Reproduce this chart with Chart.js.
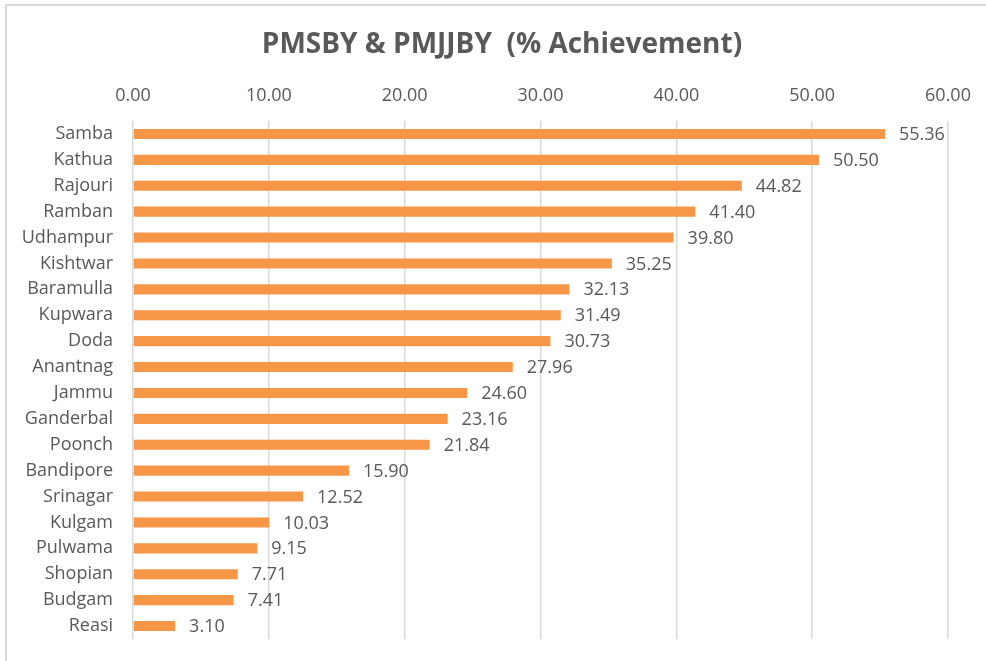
<!DOCTYPE html>
<html>
<head>
<meta charset="utf-8">
<script src="https://cdn.jsdelivr.net/npm/chart.js@4/dist/chart.umd.min.js"></script>
<style>
  html, body { margin: 0; padding: 0; background: #fff; overflow: hidden; }
  #frame { position: absolute; left: 5px; top: 4px; width: 1000px; height: 700px;
           border-left: 2px solid #d9d9d9; border-top: 2px solid #d9d9d9; }
  canvas { position: absolute; left: 0; top: 0; }
</style>
</head>
<body>
<div id="frame"></div>
<canvas id="c" width="986" height="661"></canvas>
<script>
const titleText = 'PMSBY & PMJJBY  (% Achievement)';
const districts = ['Samba','Kathua','Rajouri','Ramban','Udhampur','Kishtwar','Baramulla','Kupwara','Doda','Anantnag','Jammu','Ganderbal','Poonch','Bandipore','Srinagar','Kulgam','Pulwama','Shopian','Budgam','Reasi'];
const achievement = [55.36,50.50,44.82,41.40,39.80,35.25,32.13,31.49,30.73,27.96,24.60,23.16,21.84,15.90,12.52,10.03,9.15,7.71,7.41,3.10];
const axisMin = 0, axisMax = 60, axisStep = 10;

const textColor = '#595959';
const fontFamily = '"Open Sans", sans-serif';

const valueLabels = {
  id: 'valueLabels',
  afterDatasetsDraw(chart) {
    const ctx = chart.ctx;
    const meta = chart.getDatasetMeta(0);
    ctx.save();
    ctx.font = '18px ' + fontFamily;
    ctx.fillStyle = textColor;
    ctx.textAlign = 'left';
    ctx.textBaseline = 'middle';
    meta.data.forEach((bar, i) => {
      const v = chart.data.datasets[0].data[i];
      ctx.fillText(v.toFixed(2), bar.x + 14, bar.y + 1);
    });
    ctx.restore();
  }
};

const chartTitle = {
  id: 'chartTitle',
  afterDraw(chart) {
    const ctx = chart.ctx;
    ctx.save();
    ctx.font = 'bold 28px ' + fontFamily;
    ctx.fillStyle = textColor;
    ctx.textAlign = 'center';
    ctx.textBaseline = 'middle';
    ctx.fillText(titleText, 502, 45);
    ctx.restore();
  }
};

new Chart(document.getElementById('c'), {
  type: 'bar',
  data: {
    labels: districts,
    datasets: [{
      data: achievement,
      backgroundColor: '#F79646',
      borderWidth: 0,
      barPercentage: 0.78,
      categoryPercentage: 0.5
    }]
  },
  options: {
    indexAxis: 'y',
    responsive: false,
    animation: false,
    layout: { padding: { left: 10, right: 38, top: 69, bottom: 22 } },
    plugins: {
      legend: { display: false },
      tooltip: { enabled: false },
      title: { display: false }
    },
    scales: {
      x: {
        position: 'top',
        min: axisMin, max: axisMax,
        ticks: {
          stepSize: axisStep,
          color: textColor,
          font: { family: fontFamily, size: 18 },
          padding: 14,
          callback: v => Number(v).toFixed(2)
        },
        grid: { color: '#d9d9d9', lineWidth: 1.5, drawTicks: false },
        border: { display: false },
        afterFit: s => { s.height = 52; s.paddingLeft = 0; s.paddingRight = 0; }
      },
      y: {
        ticks: {
          color: textColor,
          font: { family: fontFamily, size: 18 },
          padding: 20,
          autoSkip: false
        },
        grid: { display: false, drawTicks: false },
        border: { display: false },
        afterFit: s => { s.width = 123; s.paddingTop = 0; s.paddingBottom = 0; }
      }
    }
  },
  plugins: [valueLabels, chartTitle]
});
</script>
</body>
</html>
